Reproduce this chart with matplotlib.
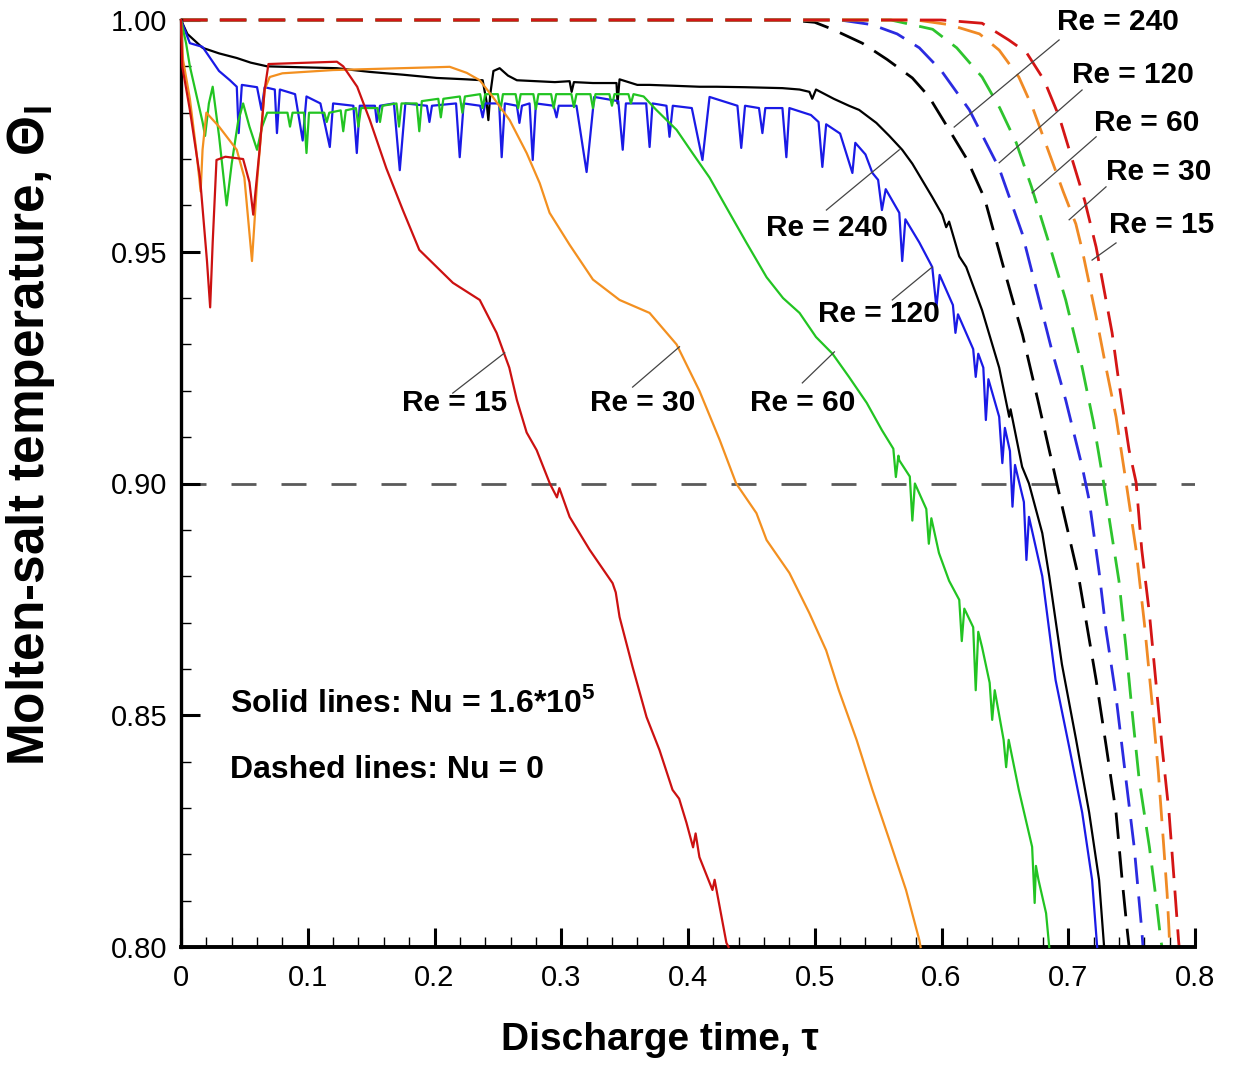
import numpy as np
import matplotlib
matplotlib.use("Agg")
import matplotlib.pyplot as plt
from matplotlib.ticker import MultipleLocator

# ---- data (tau, theta) ----
# solid lines, Nu = 1.6e5
re15_solid = [(0, 1.0), (0.001, 0.99), (0.007, 0.9806), (0.015, 0.966), (0.0205, 0.948), (0.023, 0.938),
              (0.025, 0.952), (0.028, 0.9698), (0.035, 0.9705), (0.049, 0.970), (0.054, 0.965), (0.057, 0.958),
              (0.062, 0.972), (0.066, 0.985), (0.069, 0.9905), (0.09, 0.9907), (0.123, 0.991), (0.128, 0.990),
              (0.139, 0.9856), (0.149, 0.9784), (0.162, 0.968), (0.175, 0.959), (0.188, 0.9504), (0.2145, 0.9433),
              (0.2357, 0.9396), (0.249, 0.9325), (0.259, 0.925), (0.265, 0.918), (0.2727, 0.911), (0.2806, 0.9072),
              (0.291, 0.900), (0.2966, 0.897), (0.2985, 0.899), (0.3066, 0.8928), (0.3224, 0.8857),
              (0.3405, 0.8785), (0.343, 0.8765), (0.346, 0.8712), (0.3563, 0.8604), (0.3673, 0.8496),
              (0.3775, 0.8425), (0.3878, 0.8339), (0.393, 0.832), (0.3988, 0.8268), (0.404, 0.8215),
              (0.406, 0.8245), (0.409, 0.8194), (0.4193, 0.8123), (0.421, 0.8145), (0.4303, 0.8009), (0.432, 0.80)]

re30_solid = [(0, 1.0), (0.0016, 0.9914), (0.007, 0.983), (0.012, 0.972), (0.0155, 0.963), (0.017, 0.972),
              (0.020, 0.980), (0.030, 0.977), (0.044, 0.972), (0.050, 0.966), (0.056, 0.948), (0.060, 0.965),
              (0.066, 0.985), (0.070, 0.9877), (0.08, 0.9885), (0.12, 0.9892), (0.16, 0.9895), (0.20, 0.9898),
              (0.212, 0.9899), (0.2254, 0.9886), (0.2357, 0.987), (0.246, 0.9834), (0.2593, 0.9784),
              (0.2727, 0.9713), (0.283, 0.9648), (0.2908, 0.9584), (0.3066, 0.9515), (0.325, 0.944),
              (0.346, 0.9396), (0.3697, 0.9368), (0.391, 0.930), (0.409, 0.920), (0.425, 0.9094), (0.438, 0.900),
              (0.454, 0.8936), (0.462, 0.8878), (0.480, 0.8807), (0.4958, 0.872), (0.509, 0.864), (0.519, 0.8554),
              (0.533, 0.8447), (0.5455, 0.8339), (0.559, 0.823), (0.572, 0.8123), (0.5825, 0.8015), (0.5835, 0.80)]

re60_solid = [(0, 1.0), (0.004, 0.995), (0.007, 0.990), (0.012, 0.984), (0.017, 0.978), (0.019, 0.975),
              (0.022, 0.982), (0.025, 0.9856), (0.030, 0.975), (0.036, 0.960), (0.040, 0.969), (0.045, 0.978),
              (0.049, 0.982), (0.054, 0.977), (0.060, 0.972), (0.064, 0.977), (0.068, 0.980), (0.075, 0.980),
              (0.084, 0.980), (0.086, 0.977), (0.088, 0.980), (0.097, 0.980), (0.099, 0.9713), (0.101, 0.980),
              (0.113, 0.980), (0.115, 0.978), (0.117, 0.980), (0.126, 0.9805), (0.128, 0.976), (0.130, 0.9805),
              (0.138, 0.981), (0.140, 0.977), (0.142, 0.981), (0.155, 0.981), (0.157, 0.978), (0.159, 0.9815),
              (0.170, 0.982), (0.172, 0.977), (0.174, 0.982), (0.186, 0.982), (0.188, 0.976), (0.190, 0.9825),
              (0.203, 0.983), (0.205, 0.979), (0.207, 0.983), (0.220, 0.9835), (0.222, 0.980), (0.224, 0.9835),
              (0.236, 0.984), (0.238, 0.981), (0.240, 0.984), (0.250, 0.984), (0.252, 0.9805), (0.254, 0.984),
              (0.264, 0.984), (0.266, 0.981), (0.268, 0.984), (0.278, 0.984), (0.280, 0.9808), (0.282, 0.984),
              (0.292, 0.984), (0.294, 0.981), (0.296, 0.984), (0.308, 0.984), (0.310, 0.9812), (0.312, 0.984),
              (0.323, 0.984), (0.325, 0.981), (0.327, 0.984), (0.338, 0.984), (0.340, 0.9815), (0.342, 0.984),
              (0.353, 0.984), (0.355, 0.982), (0.357, 0.984), (0.365, 0.9835), (0.375, 0.9806), (0.391, 0.9763),
              (0.4035, 0.9713), (0.417, 0.966), (0.430, 0.9597), (0.446, 0.952), (0.462, 0.9445), (0.475, 0.940),
              (0.488, 0.9368), (0.501, 0.9316), (0.514, 0.928), (0.527, 0.923), (0.541, 0.9174), (0.553, 0.9115),
              (0.562, 0.9075), (0.564, 0.9014), (0.566, 0.906), (0.5667, 0.905), (0.575, 0.9015), (0.577, 0.892),
              (0.579, 0.900), (0.588, 0.8945), (0.590, 0.887), (0.592, 0.8925), (0.598, 0.885), (0.606, 0.879),
              (0.614, 0.8749), (0.616, 0.866), (0.618, 0.873), (0.625, 0.869), (0.627, 0.8554), (0.629, 0.868),
              (0.632, 0.8647), (0.638, 0.857), (0.640, 0.849), (0.642, 0.8554), (0.649, 0.8447), (0.651, 0.8388),
              (0.653, 0.8447), (0.661, 0.8339), (0.6715, 0.8216), (0.6735, 0.8095), (0.6745, 0.8175),
              (0.6765, 0.8145), (0.6825, 0.8073), (0.685, 0.80)]

re120_solid = [(0, 1.0), (0.007, 0.995), (0.017, 0.9942), (0.03, 0.989), (0.0386, 0.987), (0.044, 0.9856),
               (0.0455, 0.9756), (0.048, 0.986), (0.060, 0.9855), (0.0635, 0.9806), (0.066, 0.9855),
               (0.074, 0.985), (0.0757, 0.9756), (0.078, 0.985), (0.090, 0.984), (0.096, 0.974), (0.099, 0.9835),
               (0.110, 0.982), (0.1174, 0.9726), (0.120, 0.982), (0.136, 0.9815), (0.1387, 0.9713),
               (0.141, 0.9815), (0.153, 0.9815), (0.1545, 0.978), (0.157, 0.9815), (0.168, 0.982),
               (0.1726, 0.9676), (0.177, 0.982), (0.194, 0.9815), (0.196, 0.978), (0.198, 0.9815), (0.217, 0.982),
               (0.2199, 0.9704), (0.223, 0.982), (0.236, 0.9815), (0.238, 0.979), (0.240, 0.982), (0.251, 0.982),
               (0.253, 0.9704), (0.2555, 0.982), (0.265, 0.9815), (0.267, 0.9778), (0.269, 0.9815),
               (0.275, 0.982), (0.2775, 0.9698), (0.280, 0.982), (0.294, 0.9815), (0.2963, 0.979),
               (0.298, 0.9815), (0.312, 0.9815), (0.320, 0.9672), (0.326, 0.9834), (0.345, 0.9825),
               (0.3485, 0.972), (0.351, 0.982), (0.367, 0.982), (0.3697, 0.9726), (0.372, 0.982), (0.383, 0.9815),
               (0.3854, 0.9748), (0.388, 0.9815), (0.403, 0.981), (0.4114, 0.9698), (0.417, 0.9834),
               (0.439, 0.9815), (0.442, 0.9724), (0.445, 0.9815), (0.456, 0.981), (0.4587, 0.9756),
               (0.461, 0.981), (0.4745, 0.981), (0.4776, 0.9704), (0.480, 0.981), (0.497, 0.9795),
               (0.503, 0.978), (0.506, 0.9683), (0.509, 0.9775), (0.520, 0.9755), (0.5297, 0.967),
               (0.532, 0.9735), (0.540, 0.971), (0.5455, 0.967), (0.550, 0.9655), (0.553, 0.959),
               (0.556, 0.9635), (0.5667, 0.9584), (0.569, 0.948), (0.5715, 0.957), (0.5825, 0.952),
               (0.5927, 0.9467), (0.596, 0.938), (0.5985, 0.945), (0.609, 0.9385), (0.611, 0.9325),
               (0.613, 0.9365), (0.625, 0.929), (0.627, 0.923), (0.629, 0.928), (0.633, 0.925), (0.635, 0.9137),
               (0.637, 0.9225), (0.6455, 0.9144), (0.648, 0.9044), (0.650, 0.912), (0.654, 0.907),
               (0.656, 0.895), (0.658, 0.904), (0.665, 0.896), (0.667, 0.8835), (0.669, 0.8928), (0.6795, 0.880),
               (0.690, 0.8576), (0.7007, 0.8432), (0.711, 0.829), (0.7188, 0.8145), (0.7228, 0.80)]

re240_solid = [(0, 1.0), (0.005, 0.997), (0.017, 0.994), (0.030, 0.9928), (0.044, 0.9918), (0.055, 0.9908),
               (0.068, 0.990), (0.095, 0.9898), (0.123, 0.9896), (0.149, 0.9888), (0.175, 0.9882),
               (0.2017, 0.9875), (0.225, 0.9872), (0.238, 0.987), (0.241, 0.9825), (0.2425, 0.9784),
               (0.244, 0.984), (0.2465, 0.989), (0.2514, 0.9896), (0.258, 0.988), (0.265, 0.987), (0.28, 0.9868),
               (0.295, 0.9866), (0.3066, 0.9868), (0.3082, 0.9845), (0.310, 0.9866), (0.325, 0.9864),
               (0.3436, 0.9864), (0.3444, 0.982), (0.346, 0.9872), (0.36, 0.986), (0.3697, 0.986), (0.39, 0.9858),
               (0.409, 0.9856), (0.4225, 0.9856), (0.445, 0.9855), (0.4745, 0.9853), (0.488, 0.985),
               (0.4958, 0.9845), (0.498, 0.983), (0.501, 0.985), (0.515, 0.983), (0.527, 0.9815), (0.535, 0.9806),
               (0.5486, 0.9778), (0.5588, 0.975), (0.569, 0.972), (0.577, 0.969), (0.5927, 0.9618),
               (0.6006, 0.958), (0.6037, 0.9553), (0.606, 0.9565), (0.614, 0.949), (0.6195, 0.9467),
               (0.632, 0.9374), (0.6455, 0.925), (0.6534, 0.9144), (0.6545, 0.916), (0.6636, 0.9036),
               (0.669, 0.900), (0.6795, 0.8893), (0.685, 0.880), (0.695, 0.861), (0.706, 0.845), (0.7165, 0.829),
               (0.7243, 0.8145), (0.7283, 0.80)]

# dashed lines, Nu = 0
re240_dash = [(0, 1.0), (0.48, 1.0), (0.50, 0.9995), (0.514, 0.998), (0.5375, 0.995), (0.557, 0.9915),
              (0.577, 0.9875), (0.590, 0.9835), (0.6045, 0.977), (0.620, 0.970), (0.634, 0.9615),
              (0.651, 0.9446), (0.664, 0.932), (0.676, 0.918), (0.691, 0.900), (0.7086, 0.8792), (0.722, 0.8576),
              (0.730, 0.8432), (0.7377, 0.829), (0.7425, 0.8145), (0.746, 0.805), (0.748, 0.80)]
re120_dash = [(0, 1.0), (0.52, 1.0), (0.545, 0.999), (0.565, 0.997), (0.5825, 0.994), (0.600, 0.989),
              (0.622, 0.9806), (0.6455, 0.968), (0.6636, 0.954), (0.677, 0.9396), (0.687, 0.9288), (0.698, 0.918),
              (0.711, 0.9036), (0.7165, 0.8964), (0.7243, 0.881), (0.7298, 0.8684), (0.7377, 0.854),
              (0.7456, 0.836), (0.752, 0.8216), (0.758, 0.8037), (0.759, 0.80)]
re60_dash = [(0, 1.0), (0.56, 1.0), (0.593, 0.998), (0.612, 0.994), (0.632, 0.9877), (0.646, 0.981),
             (0.659, 0.9735), (0.671, 0.964), (0.6835, 0.953), (0.698, 0.9396), (0.711, 0.925), (0.720, 0.913),
             (0.728, 0.900), (0.740, 0.879), (0.7455, 0.8647), (0.7505, 0.8505), (0.756, 0.836), (0.764, 0.8216),
             (0.769, 0.811), (0.773, 0.8015), (0.774, 0.80)]
re30_dash = [(0, 1.0), (0.58, 1.0), (0.606, 0.999), (0.630, 0.997), (0.6455, 0.9935), (0.661, 0.9877),
             (0.672, 0.981), (0.684, 0.972), (0.696, 0.963), (0.706, 0.956), (0.711, 0.9504), (0.722, 0.936),
             (0.7298, 0.925), (0.7377, 0.9144), (0.7456, 0.9003), (0.7535, 0.8857), (0.760, 0.870),
             (0.766, 0.853), (0.771, 0.838), (0.775, 0.823), (0.778, 0.8115), (0.7795, 0.8037), (0.780, 0.80)]
re15_dash = [(0, 1.0), (0.60, 1.0), (0.632, 0.9993), (0.653, 0.9957), (0.667, 0.993), (0.681, 0.987),
             (0.693, 0.979), (0.703, 0.970), (0.713, 0.961), (0.722, 0.951), (0.7346, 0.9325), (0.740, 0.9217),
             (0.748, 0.9072), (0.7535, 0.9003), (0.758, 0.8857), (0.764, 0.872), (0.769, 0.8576),
             (0.774, 0.8432), (0.7795, 0.829), (0.7835, 0.8145), (0.787, 0.8015), (0.7875, 0.80)]

# label text, label position, point on the curve
top_labels = ["Re = 240", "Re = 120", "Re = 60", "Re = 30", "Re = 15"]
top_label_xy = [(0.6912, 0.9996), (0.703, 0.9881), (0.7204, 0.9778), (0.7298, 0.9672), (0.7322, 0.9558)]
top_leader = [((0.610, 0.9769), (0.6928, 0.9957)), ((0.6455, 0.9692), (0.7109, 0.9849)),
              ((0.6715, 0.9627), (0.7220, 0.9748)), ((0.7007, 0.9569), (0.7298, 0.9640)),
              ((0.7188, 0.9482), (0.7377, 0.9519))]
low_labels = ["Re = 240", "Re = 120", "Re = 60", "Re = 30", "Re = 15"]
low_label_xy = [(0.510, 0.9551), (0.5509, 0.9366), (0.4902, 0.9174), (0.3641, 0.9174), (0.2160, 0.9174)]
low_leader = [((0.5092, 0.9590), (0.5667, 0.9720)), ((0.5612, 0.9396), (0.5927, 0.9467)),
              ((0.4902, 0.9217), (0.5155, 0.9284)), ((0.3563, 0.9208), (0.3933, 0.9295)),
              ((0.2144, 0.9195), (0.2554, 0.9282))]

solid_series = [re240_solid, re120_solid, re60_solid, re30_solid, re15_solid]
dash_series = [re240_dash, re120_dash, re60_dash, re30_dash, re15_dash]
solid_colors = ["#000000", "#1a1ae6", "#22c422", "#f39020", "#cc1111"]
dash_colors = ["#000000", "#2b2be0", "#2ec42e", "#f08a25", "#d41515"]

font = ["Liberation Sans", "DejaVu Sans"]

fig = plt.figure(figsize=(12.39, 10.70), dpi=100)
ax = fig.add_axes([181 / 1239, 1 - 947 / 1070, (1195 - 181) / 1239, (947 - 20) / 1070])

for pts, c in zip(dash_series, dash_colors):
    x, y = np.array(pts).T
    ax.plot(x, y, color=c, lw=2.0, dashes=(9.5, 4.5), clip_on=False, zorder=2)

for pts, c in zip(solid_series, solid_colors):
    x, y = np.array(pts).T
    ax.plot(x, y, color=c, lw=1.6, clip_on=False, zorder=3)

ax.plot([0, 0.8], [0.9, 0.9], color="#5a5a5a", lw=2.0, dashes=(9, 9), zorder=1)

for txt, (tx, ty), (p0, p1) in zip(top_labels, top_label_xy, top_leader):
    ax.plot([p0[0], p1[0]], [p0[1], p1[1]], color="#444444", lw=0.9, zorder=4)
    ax.text(tx, ty, txt, ha="left", va="center", fontsize=21.5, fontweight="bold", family=font, zorder=5)
for txt, (tx, ty), (p0, p1) in zip(low_labels, low_label_xy, low_leader):
    ax.plot([p0[0], p1[0]], [p0[1], p1[1]], color="#444444", lw=0.9, zorder=4)
    ax.text(tx, ty, txt, ha="center", va="center", fontsize=21.5, fontweight="bold", family=font, zorder=5)

ax.text(0.0386, 0.8526, "Solid lines: Nu = 1.6*10$^\\mathregular{5}$", ha="left", va="center",
        fontsize=23, fontweight="bold", family=font)
ax.text(0.0386, 0.8382, "Dashed lines: Nu = 0", ha="left", va="center",
        fontsize=23, fontweight="bold", family=font)

ax.set_xlim(0, 0.8)
ax.set_ylim(0.8, 1.0)
ax.set_xticks(np.arange(0, 0.81, 0.1))
ax.set_xticklabels(["0", "0.1", "0.2", "0.3", "0.4", "0.5", "0.6", "0.7", "0.8"])
ax.set_yticks([0.80, 0.85, 0.90, 0.95, 1.00])
ax.set_yticklabels(["0.80", "0.85", "0.90", "0.95", "1.00"])
ax.xaxis.set_minor_locator(MultipleLocator(0.02))
ax.yaxis.set_minor_locator(MultipleLocator(0.01))
ax.tick_params(which="major", direction="in", length=14, width=2.2)
ax.tick_params(axis="x", which="major", pad=12)
ax.tick_params(axis="y", which="major", pad=10)
ax.tick_params(which="minor", direction="in", length=7, width=1.0)
for lab in ax.get_xticklabels():
    lab.set_family(font)
    lab.set_fontsize(21)
for lab in ax.get_yticklabels():
    lab.set_family(font)
    lab.set_fontsize(21)

for s in ["top", "right"]:
    ax.spines[s].set_visible(False)
ax.spines["left"].set_linewidth(2.4)
ax.spines["bottom"].set_linewidth(2.8)

ax.set_xlabel("Discharge time, \u03c4", fontsize=28, fontweight="bold", family=font)
ax.xaxis.set_label_coords(0.472, -0.100)
ax.xaxis.label.set_va("center")
ax.set_ylabel("Molten-salt temperature, \u0398$_\\mathregular{l}$", fontsize=37, fontweight="bold",
              family=font)
ax.yaxis.set_label_coords(-0.148, 0.552)
ax.yaxis.label.set_va("center")

fig.savefig("out.png", dpi=100, facecolor="white")
